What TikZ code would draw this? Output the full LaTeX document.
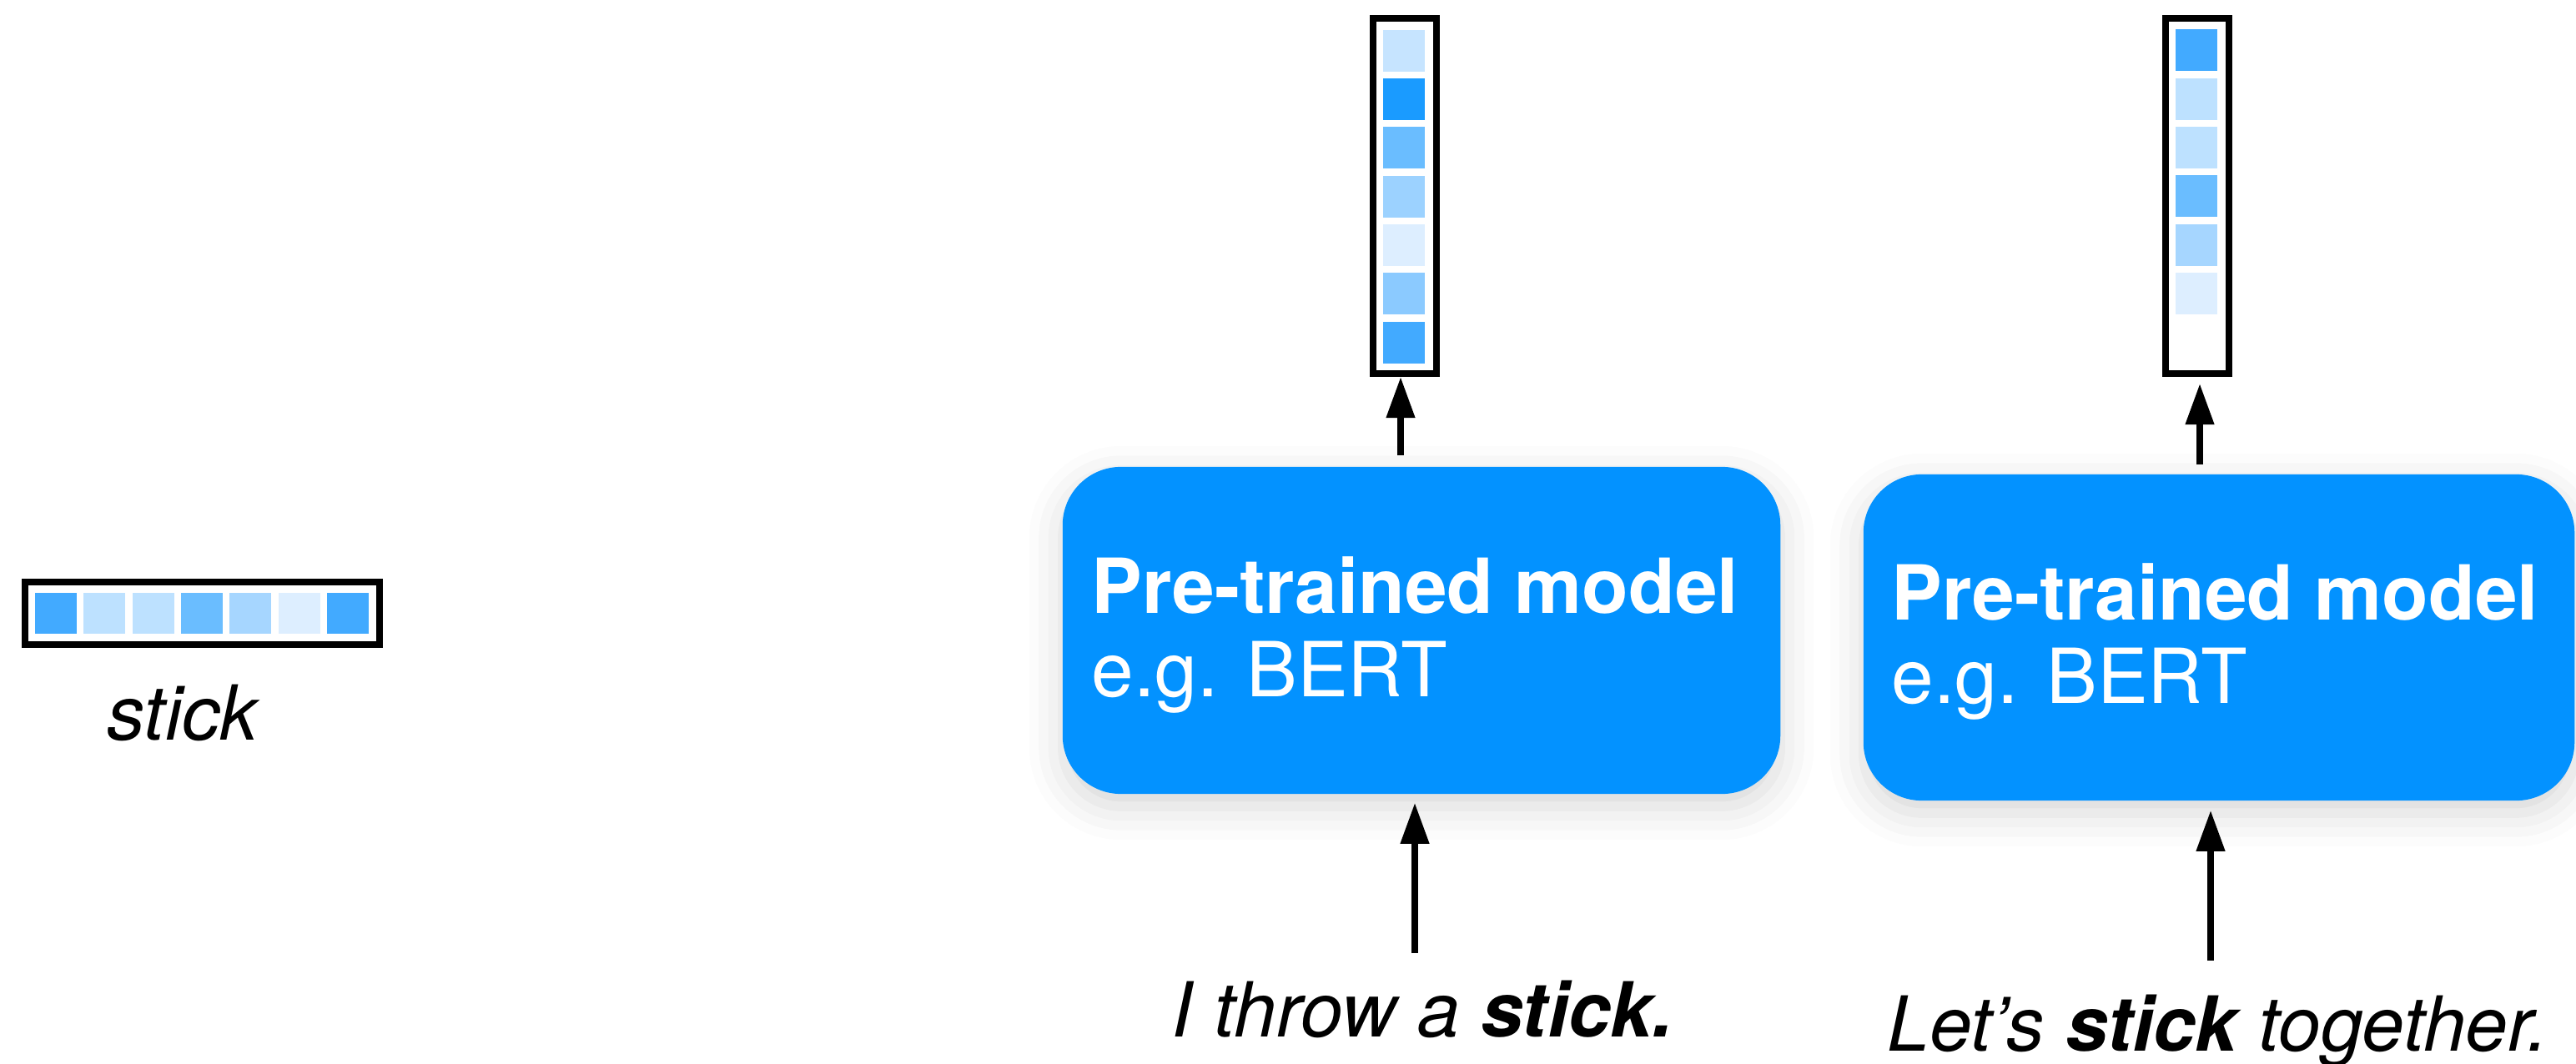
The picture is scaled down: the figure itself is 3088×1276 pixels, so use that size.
\documentclass[tikz,border=0pt]{standalone}
\usepackage{fontspec}
\setmainfont{TeX Gyre Heros}
\usetikzlibrary{arrows.meta,shadows.blur}

% palette
\definecolor{modelblue}{RGB}{3,146,255}
\definecolor{cA}{RGB}{66,170,255}
\definecolor{cB}{RGB}{189,225,255}
\definecolor{cC}{RGB}{106,189,255}
\definecolor{cD}{RGB}{166,214,255}
\definecolor{cE}{RGB}{221,238,255}
\definecolor{cF}{RGB}{198,228,255}
\definecolor{cG}{RGB}{26,155,255}
\definecolor{cH}{RGB}{156,210,255}
\definecolor{cI}{RGB}{139,202,255}

\tikzset{
  txt/.style={font=\fontsize{25.9}{31}\selectfont, inner sep=0pt},
  vframe/.style={draw=black, line width=0.08cm, fill=none, inner sep=0pt},
  modelbox/.style={fill=modelblue, rounded corners=0.7cm, inner sep=0pt,
    blur shadow={shadow xshift=0pt, shadow yshift=-0.15cm,
      shadow blur radius=0.4cm, shadow opacity=16}},
  arr/.style={-{Triangle[length=0.49cm,width=0.33cm]}, line width=0.075cm},
}

\begin{document}
\begin{tikzpicture}[x=0.01cm, y=-0.01cm]
  \useasboundingbox (0,0) rectangle (3088,1276);

  % ---- static embedding of "stick" (horizontal) ----
  \node[vframe, minimum width=4.25cm, minimum height=0.75cm] (v0) at (242.5,735.5) {};
  \foreach \c [count=\i from 0] in {cA,cB,cB,cC,cD,cE,cA}
    \fill[\c] ({42+58.33*\i},711) rectangle ++(50,49);
  \node[txt, anchor=base] (w0) at (219,887) {\itshape stick};

  % ---- contextual embedding 1 (vertical) ----
  \node[vframe, minimum width=0.76cm, minimum height=4.26cm] (v1) at (1684,235) {};
  \foreach \c [count=\i from 0] in {cF,cG,cC,cH,cE,cI,cA}
    \fill[\c] (1658,{35.7+58.33*\i}) rectangle ++(50,50);

  % ---- contextual embedding 2 (vertical, last slot empty) ----
  \node[vframe, minimum width=0.76cm, minimum height=4.26cm] (v2) at (2634,235) {};
  \foreach \c [count=\i from 0] in {cA,cB,cB,cC,cD,cE}
    \fill[\c] (2608,{35.2+58.33*\i}) rectangle ++(50,50);

  % ---- pre-trained models ----
  \node[modelbox, minimum width=8.6cm, minimum height=3.92cm] (m1) at (1704,756) {};
  \node[txt, text=white, anchor=base west] (m1a) at (1308,735) {\bfseries Pre-trained model};
  \node[txt, text=white, anchor=base west] (m1b) at (1308,835) {e.g. BERT};

  \node[modelbox, minimum width=8.52cm, minimum height=3.91cm] (m2) at (2660,764.5) {};
  \node[txt, text=white, anchor=base west] (m2a) at (2267,743) {\bfseries Pre-trained model};
  \node[txt, text=white, anchor=base west] (m2b) at (2267,843) {e.g. BERT};

  % ---- input sentences ----
  \node[txt, anchor=base west] (s1) at (1404,1243) {\itshape I throw a \textbf{stick.}};
  \node[txt, anchor=base west] (s2) at (2262,1260) {\itshape Let’s \textbf{stick} together.};

  % ---- connectors ----
  \coordinate (in1) at (1696,1143);
  \coordinate (in2) at (2650,1152);
  \coordinate (out1) at (1679,546);
  \coordinate (out2) at (2637,557);

  \draw[arr, shorten >=0.1cm] (in1) -- (in1 |- m1.south);
  \draw[arr, shorten >=0.11cm] (in2) -- (in2 |- m2.south);
  \draw[arr] (out1) -- (out1 |- v1.south);
  \draw[arr, shorten >=0.08cm] (out2) -- (out2 |- v2.south);
\end{tikzpicture}
\end{document}
